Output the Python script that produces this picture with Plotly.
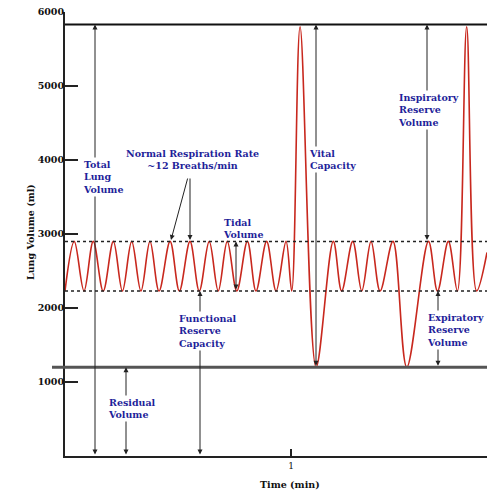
import plotly.graph_objects as go

# ---- data ----
# turning points of the spirometer trace: time (min), lung volume (ml)
breath_time = [0.000, 0.041, 0.084, 0.125, 0.169, 0.214, 0.254, 0.295, 0.336, 0.376,
               0.416, 0.465, 0.506, 0.553, 0.594, 0.638, 0.678, 0.718, 0.760, 0.807,
               0.845, 0.892, 0.934, 0.978, 1.003, 1.040, 1.111, 1.187, 1.224, 1.273,
               1.313, 1.354, 1.394, 1.451, 1.512, 1.608, 1.648, 1.696, 1.736, 1.777,
               1.821, 1.867]
breath_volume = [2230, 2900, 2230, 2900, 2230, 2900, 2230, 2900, 2230, 2900,
                 2230, 2900, 2230, 2900, 2230, 2900, 2230, 2900, 2230, 2900,
                 2230, 2900, 2230, 2900, 2230, 5800, 1200, 2900, 2230, 2900,
                 2230, 2900, 2230, 2900, 1200, 2900, 2230, 2900, 2230, 5800,
                 2230, 2750]

total_capacity = 5830      # top reference line
tidal_top = 2900           # end of normal inspiration
tidal_bottom = 2230        # end of normal expiration (FRC)
residual = 1200            # residual volume line

y_ticks = [1000, 2000, 3000, 4000, 5000, 6000]
y_tick_labels = ["1000", "2000", "3000", "4000", "5000", "6000"]
x_ticks = [1]
x_tick_labels = ["1"]

x_max = 1.867
y_max = 6000

# ---- figure ----
W, H = 487, 492
ML, MR, MT, MB = 65, 0, 12, 36
PX_PER_MIN = (W - ML - MR) / x_max
PX_PER_ML = (H - MT - MB) / y_max


def tx(px):
    return (px - ML) / PX_PER_MIN


def ty(py):
    return (H - MB - py) / PX_PER_ML


fig = go.Figure()
fig.add_trace(go.Scatter(
    x=breath_time, y=breath_volume, mode="lines",
    line=dict(color="#c8281e", width=1.6, shape="spline", smoothing=1.0),
    hoverinfo="skip", showlegend=False))

shapes = [
    dict(type="line", xref="paper", yref="y", x0=0, x1=1, y0=total_capacity, y1=total_capacity,
         line=dict(color="#111111", width=2)),
    dict(type="line", xref="paper", yref="y", x0=-13 / (W - ML), x1=1, y0=residual, y1=residual,
         line=dict(color="#555555", width=3)),
    dict(type="line", xref="paper", yref="y", x0=0, x1=1, y0=tidal_top, y1=tidal_top,
         line=dict(color="#222222", width=1.5, dash="dot"), layer="above"),
    dict(type="line", xref="paper", yref="y", x0=0, x1=1, y0=tidal_bottom, y1=tidal_bottom,
         line=dict(color="#222222", width=1.5, dash="dot"), layer="above"),
]

arrow_col = "#222222"
annotations = []


def arrow(x_tail, y_tail, x_head, y_head, both=True):
    annotations.append(dict(
        x=x_head, y=y_head, ax=x_tail, ay=y_tail, xref="x", yref="y", axref="x", ayref="y",
        text="", showarrow=True, arrowhead=2, arrowsize=1.0, arrowwidth=1,
        arrowcolor=arrow_col, arrowside="end+start" if both else "end",
        startarrowhead=2, startarrowsize=1.0))


# vertical measurement arrows
arrow(tx(95), 0, tx(95), total_capacity)            # total lung volume
arrow(tx(126), 0, tx(126), residual)                 # residual volume
arrow(tx(200), 0, tx(200), tidal_bottom)             # functional reserve capacity
arrow(tx(236), tidal_bottom, tx(236), tidal_top)     # tidal volume
arrow(tx(316), residual, tx(316), total_capacity)    # vital capacity
arrow(tx(427), tidal_top, tx(427), total_capacity)   # inspiratory reserve volume
arrow(tx(438), residual, tx(438), tidal_bottom)      # expiratory reserve volume
# respiration-rate pointers
arrow(tx(188), ty(177), tx(171), ty(240), both=False)
arrow(tx(190), ty(177), tx(190), ty(240), both=False)

lab_font = dict(family="DejaVu Serif", size=9.5, color="#1f1f9a", weight="bold")


def label(text, px, py, align="left", bg=True):
    annotations.append(dict(
        x=tx(px), y=ty(py), xref="x", yref="y", text=text, showarrow=False,
        xanchor="left" if align == "left" else "center", yanchor="top",
        align=align, font=lab_font, bgcolor="white" if bg else None, borderpad=1))


label("Total<br>Lung<br>Volume", 81, 157)
label("Normal Respiration Rate<br>~12 Breaths/min", 192, 146, align="center", bg=False)
label("Tidal<br>Volume", 221, 215, bg=False)
label("Functional<br>Reserve<br>Capacity", 177, 311)
label("Residual<br>Volume", 106, 395)
label("Vital<br>Capacity", 307, 146)
label("Inspiratory<br>Reserve<br>Volume", 396, 90)
label("Expiratory<br>Reserve<br>Volume", 425, 310)

ax_font = dict(family="DejaVu Serif", size=9.5, color="#111111", weight="bold")
annotations.append(dict(x=(290 - ML) / (W - ML - MR), y=(H - MB - 484) / (H - MT - MB),
                        xref="paper", yref="paper", text="Time (min)", showarrow=False,
                        xanchor="center", yanchor="middle", font=ax_font))
annotations.append(dict(x=(30 - ML) / (W - ML - MR), y=(H - MB - 232) / (H - MT - MB),
                        xref="paper", yref="paper", text="Lung Volume (ml)", textangle=-90,
                        xanchor="center", yanchor="middle", showarrow=False, font=ax_font))

fig.update_layout(
    width=W, height=H, margin=dict(l=ML, r=MR, t=MT, b=MB),
    paper_bgcolor="white", plot_bgcolor="white",
    shapes=shapes, annotations=annotations, showlegend=False,
    xaxis=dict(range=[0, x_max], tickvals=x_ticks, ticktext=x_tick_labels,
               ticks="inside", ticklen=7, tickwidth=2, tickcolor="#222222",
               showline=True, linecolor="#222222", linewidth=2, showgrid=False,
               zeroline=False, tickfont=dict(family="DejaVu Serif", size=9, color="#111111")),
    yaxis=dict(range=[0, y_max], tickvals=y_ticks, ticktext=y_tick_labels,
               ticks="inside", ticklen=13, tickwidth=2, tickcolor="#222222",
               showline=True, linecolor="#222222", linewidth=2, showgrid=False,
               zeroline=False, ticklabelstandoff=-3,
               tickfont=dict(family="DejaVu Serif", size=9.5, color="#111111", weight="bold")),
)

fig.write_html("out.html", config={"displayModeBar": False},
               post_script="document.body.style.margin='0px';document.body.style.overflow='hidden';")
